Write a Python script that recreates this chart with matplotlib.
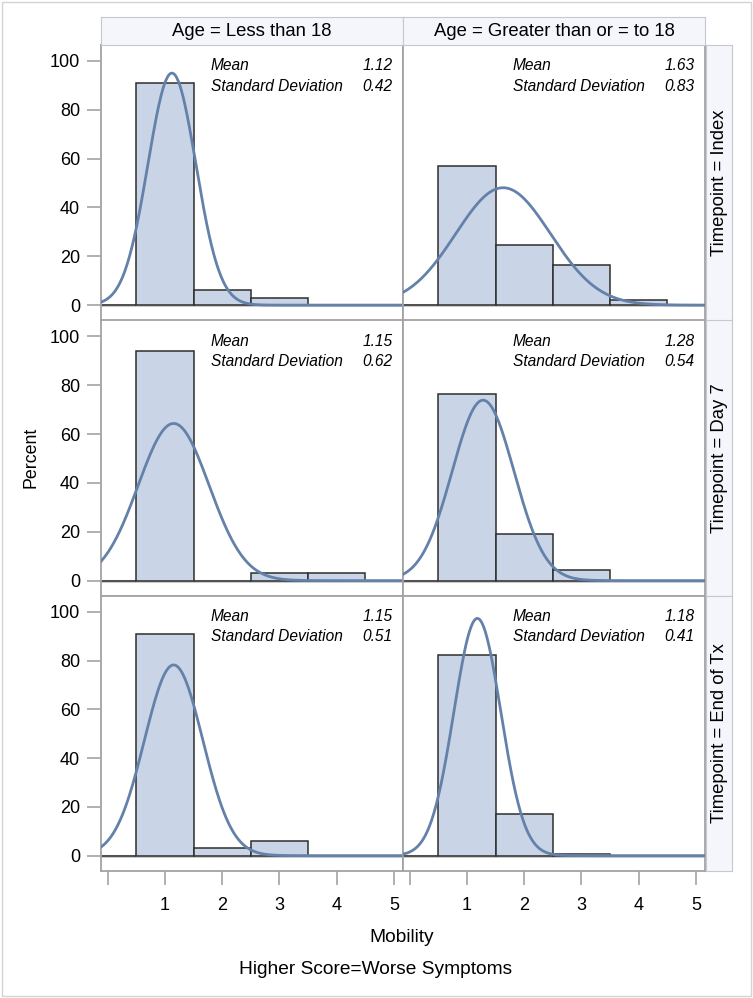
import matplotlib.pyplot as plt
import numpy as np
from matplotlib.patches import Rectangle

W, H = 753, 998

col_labels = ["Age = Less than 18", "Age = Greater than or = to 18"]
row_labels = ["Timepoint = Index", "Timepoint = Day 7", "Timepoint = End of Tx"]

# Prozent je Mobility-Stufe 0, 1, 2, ... (Zeile = Timepoint, Spalte = Altersgruppe)
pct_index_lt18 = [0, 91.0, 6.1, 3.0]
pct_index_ge18 = [0, 57.1, 24.5, 16.3, 2.0]
pct_day7_lt18 = [0, 93.9, 0, 3.0, 3.0]
pct_day7_ge18 = [0, 76.6, 19.1, 4.3]
pct_end_lt18 = [0, 90.9, 3.0, 6.1]
pct_end_ge18 = [0, 82.3, 17.0, 0.8]

mean_vals = [[1.12, 1.63], [1.15, 1.28], [1.15, 1.18]]
sd_vals = [[0.42, 0.83], [0.62, 0.54], [0.51, 0.41]]

xticks = [0, 1, 2, 3, 4, 5]
xtick_labels = ["", "1", "2", "3", "4", "5"]
yticks = [0, 20, 40, 60, 80, 100]

FILL = "#c9d5e6"
EDGE = "#2e2e2e"
CURVE = "#6481aa"
FRAME = "#a3a3a3"
HEAD = "#f4f6fc"

plt.rcParams["font.family"] = ["Liberation Sans", "DejaVu Sans"]


def box(x0, y0, x1, y1):
    # Pixel-Koordinaten (oben links) -> Figure-Anteile
    return [x0 / W, 1 - y1 / H, (x1 - x0) / W, (y1 - y0) / H]


def style_frame(ax):
    for sp in ax.spines.values():
        sp.set_color(FRAME)
        sp.set_linewidth(1.3)


def main():
    fig = plt.figure(figsize=(W / 100, H / 100), dpi=100)
    fig.patches.append(Rectangle((2 / W, 2 / H), 1 - 4 / W, 1 - 4 / H, transform=fig.transFigure,
                                 fill=False, edgecolor="#d4d4d4", linewidth=1.0))

    data = [[pct_index_lt18, pct_index_ge18],
            [pct_day7_lt18, pct_day7_ge18],
            [pct_end_lt18, pct_end_ge18]]

    xs = [101, 403, 705]
    ys = [45, 320.5, 596, 871]
    xx = np.linspace(-0.2, 5.3, 400)

    for r in range(3):
        for c in range(2):
            ax = fig.add_axes(box(xs[c], ys[r], xs[c + 1], ys[r + 1]))
            pct = data[r][c]
            ax.axhline(0, color="#cbcbcb", lw=2.2, zorder=1)
            ax.bar(range(len(pct)), pct, width=1.0, color=FILL, edgecolor=EDGE, linewidth=1.1, zorder=2)
            m, s = mean_vals[r][c], sd_vals[r][c]
            dens = 100.0 / (s * np.sqrt(2 * np.pi)) * np.exp(-0.5 * ((xx - m) / s) ** 2)
            ax.plot(xx, dens, color=CURVE, lw=2.0, zorder=3)
            ax.set_xlim(-0.12, 5.16)
            ax.set_ylim(-6.3, 106.5)
            style_frame(ax)
            ax.tick_params(color=FRAME, length=10, width=1.2, labelsize=13, pad=5)
            ax.set_yticks(yticks)
            ax.set_xticks(xticks)
            if c == 0:
                ax.set_yticklabels([str(v) for v in yticks])
            else:
                ax.tick_params(axis="y", left=False, labelleft=False)
            if r == 2:
                ax.set_xticklabels(xtick_labels)
                ax.tick_params(axis="x", pad=9)
            else:
                ax.tick_params(axis="x", bottom=False, labelbottom=False)

            tx0 = 0.364
            tx1 = 0.966
            kw = dict(transform=ax.transAxes, fontsize=11.2, style="italic", va="center")
            ax.text(tx0, 0.924, "Mean", **kw)
            ax.text(tx1, 0.924, f"{m:.2f}", ha="right", **kw)
            ax.text(tx0, 0.851, "Standard Deviation", **kw)
            ax.text(tx1, 0.851, f"{s:.2f}", ha="right", **kw)

    # Spaltenköpfe
    for c in range(2):
        hx = fig.add_axes(box(xs[c], 17, xs[c + 1], 45), facecolor=HEAD)
        hx.set_xticks([])
        hx.set_yticks([])
        for sp in hx.spines.values():
            sp.set_color("#c4c8d0")
        hx.text(0.5, 0.48, col_labels[c], ha="center", va="center", fontsize=13.3)

    # Zeilenköpfe rechts
    for r in range(3):
        hx = fig.add_axes(box(706, ys[r], 732, ys[r + 1]), facecolor=HEAD)
        hx.set_xticks([])
        hx.set_yticks([])
        for sp in hx.spines.values():
            sp.set_color("#c4c8d0")
        hx.text(0.5, 0.5, row_labels[r], ha="center", va="center", rotation=90, fontsize=13.3)

    fig.text(31 / W, 1 - 457 / H, "Percent", rotation=90, ha="center", va="center", fontsize=12.8)
    fig.text(402 / W, 1 - 937 / H, "Mobility", ha="center", va="center", fontsize=13.8)
    fig.text(376 / W, 1 - 970 / H, "Higher Score=Worse Symptoms", ha="center", va="center", fontsize=13.8)

    fig.savefig("out.png", dpi=100)
    plt.close(fig)


if __name__ == "__main__":
    main()
